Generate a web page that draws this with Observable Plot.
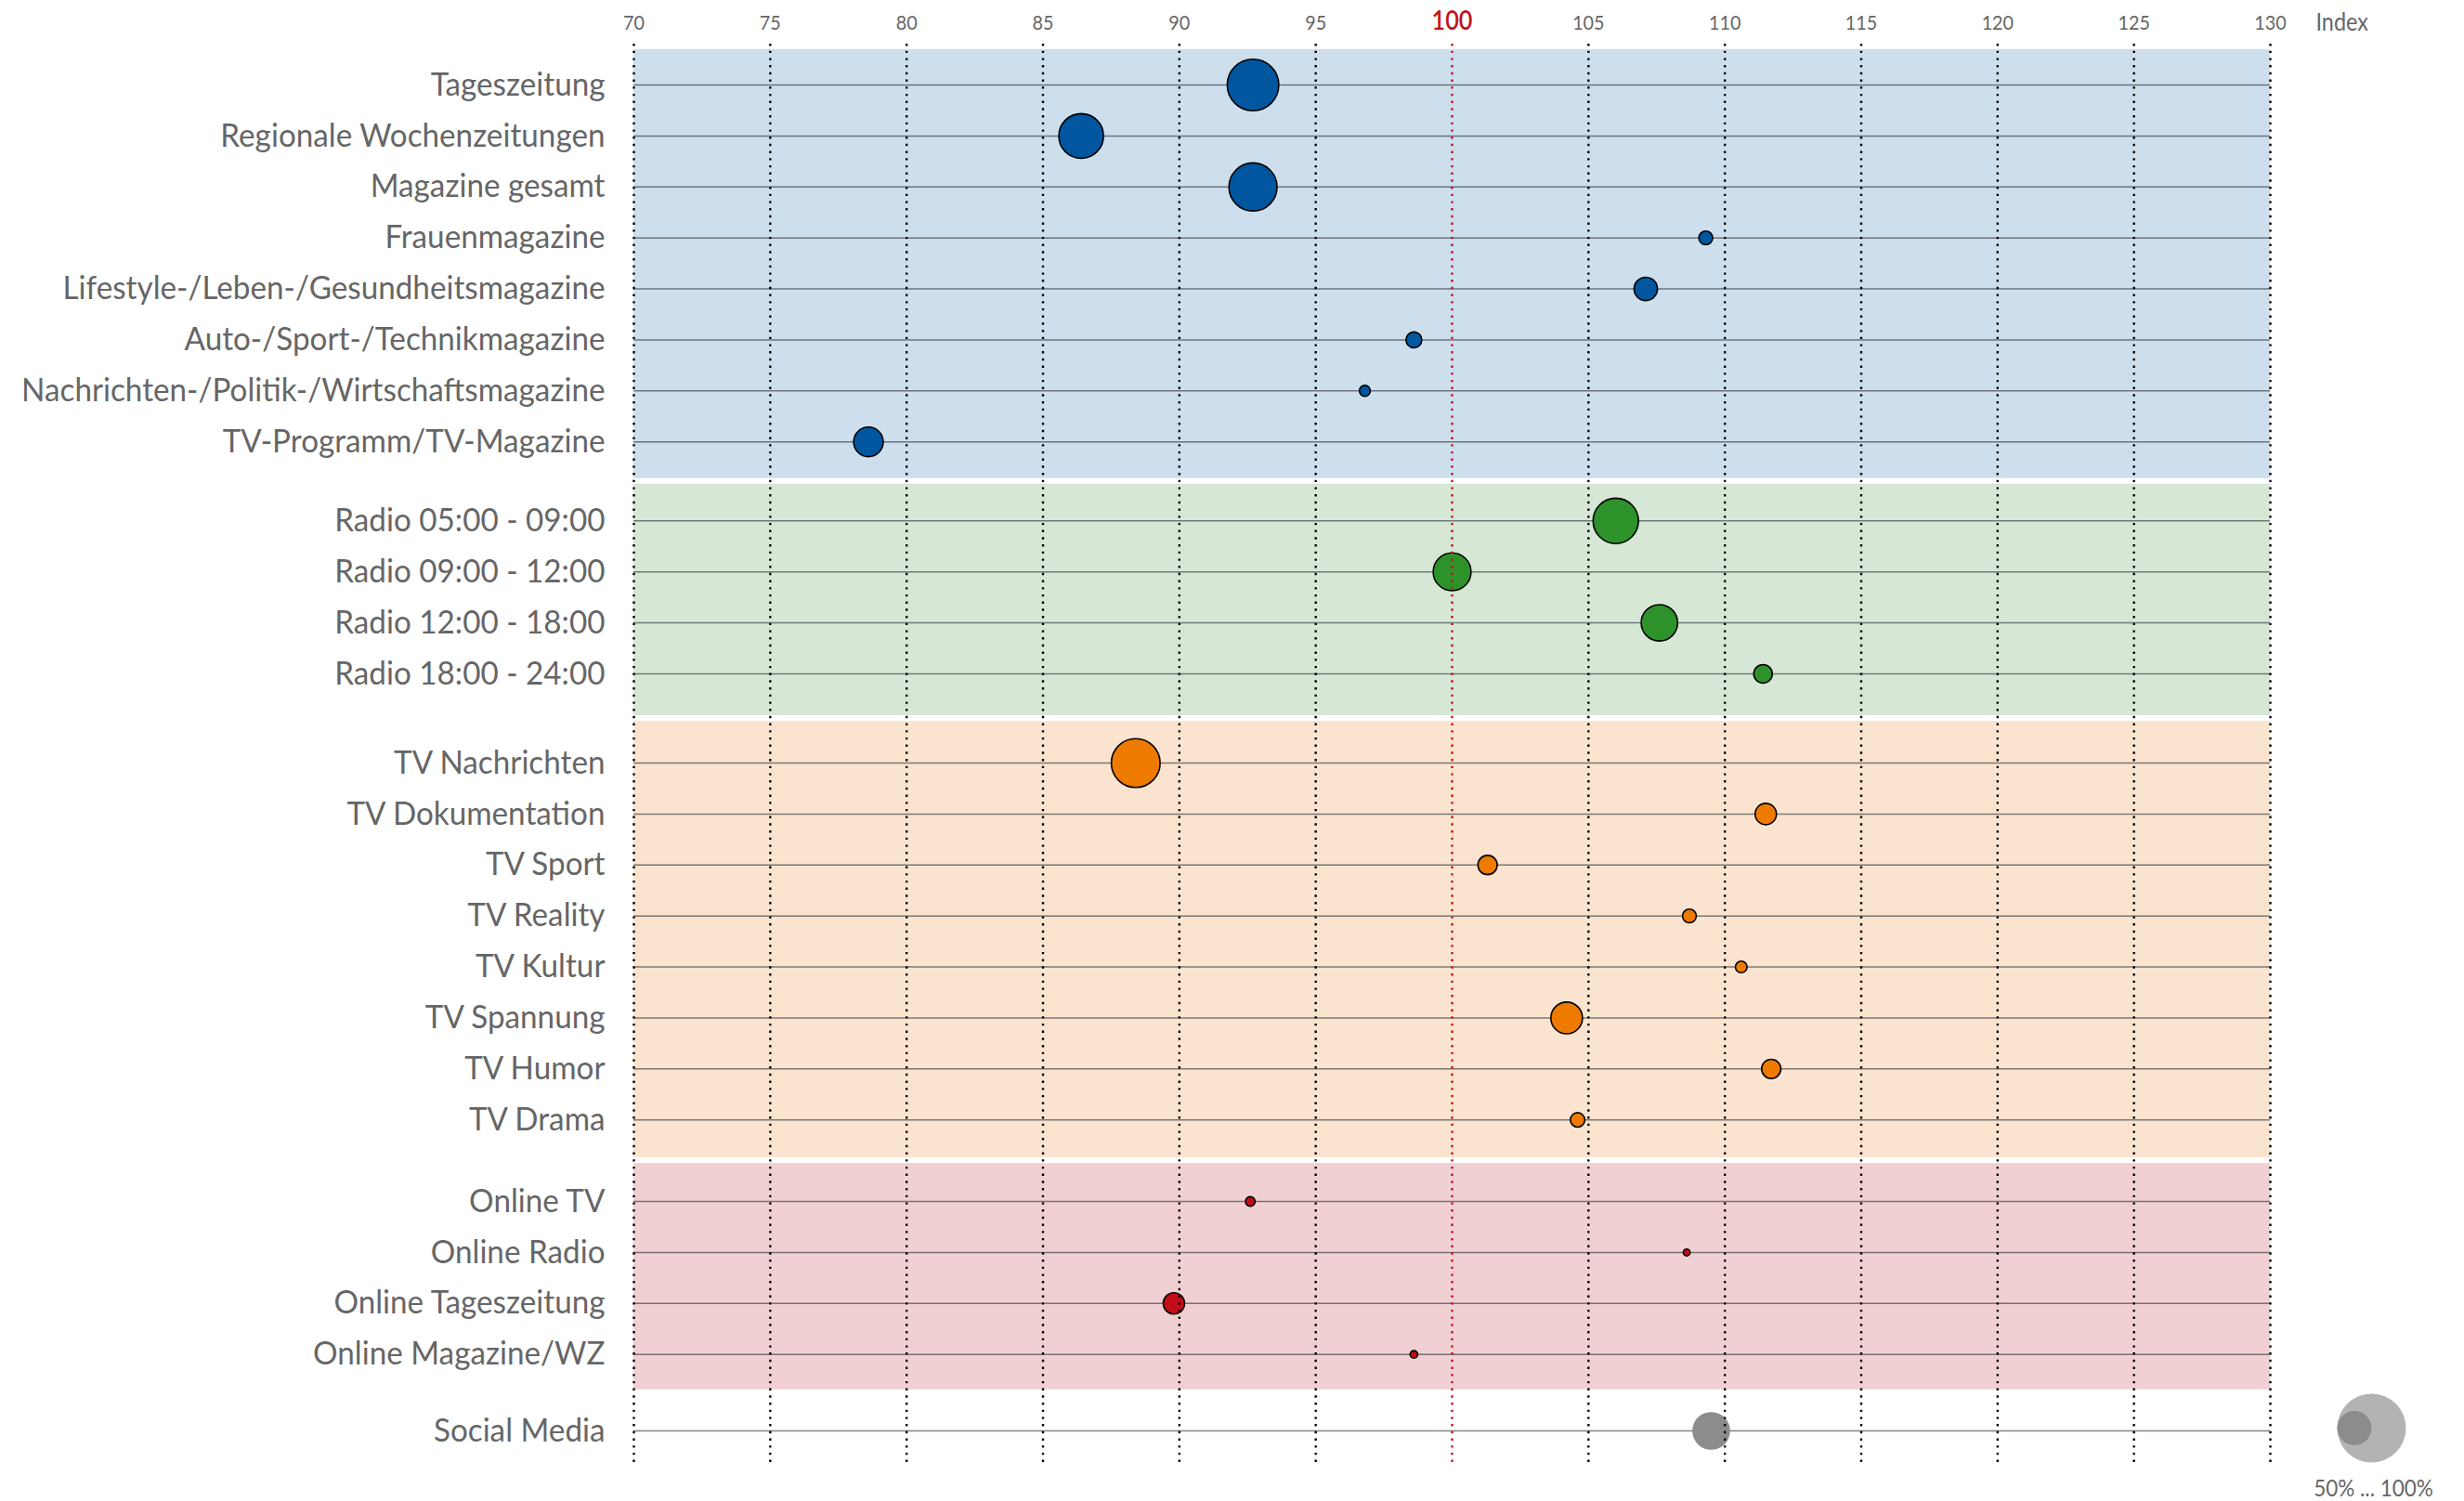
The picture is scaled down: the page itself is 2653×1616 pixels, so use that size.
<!DOCTYPE html>
<html>
<head>
<meta charset="utf-8">
<script src="https://cdn.jsdelivr.net/npm/d3@7"></script>
<script src="https://cdn.jsdelivr.net/npm/@observablehq/plot@0.6"></script>
<style>
  html, body { margin: 0; padding: 0; background: #fff; overflow: hidden; }
  #chart svg { display: block; }
</style>
</head>
<body>
<div id="chart"></div>
<script>
// ---------- data ----------
const categories = [
  "Tageszeitung", "Regionale Wochenzeitungen", "Magazine gesamt", "Frauenmagazine",
  "Lifestyle-/Leben-/Gesundheitsmagazine", "Auto-/Sport-/Technikmagazine",
  "Nachrichten-/Politik-/Wirtschaftsmagazine", "TV-Programm/TV-Magazine",
  "Radio 05:00 - 09:00", "Radio 09:00 - 12:00", "Radio 12:00 - 18:00", "Radio 18:00 - 24:00",
  "TV Nachrichten", "TV Dokumentation", "TV Sport", "TV Reality", "TV Kultur",
  "TV Spannung", "TV Humor", "TV Drama",
  "Online TV", "Online Radio", "Online Tageszeitung", "Online Magazine/WZ",
  "Social Media"
];
const groupOf = [
  "Print", "Print", "Print", "Print", "Print", "Print", "Print", "Print",
  "Radio", "Radio", "Radio", "Radio",
  "TV", "TV", "TV", "TV", "TV", "TV", "TV", "TV",
  "Online", "Online", "Online", "Online",
  "Social"
];
// Index (x position)
const indexValues = [
  92.7, 86.4, 92.7, 109.3, 107.1, 98.6, 96.8, 78.6,
  106.0, 100.0, 107.6, 111.4,
  88.4, 111.5, 101.3, 108.7, 110.6, 104.2, 111.7, 104.6,
  92.6, 108.6, 89.8, 98.6,
  109.5
];
// Reichweite in % (circle size)
const reachValues = [
  75, 65, 70, 20, 34, 23, 16, 43,
  66, 55, 53, 27,
  71, 31, 28, 20, 17, 46, 28, 21,
  14, 10, 31, 11,
  55
];
const xTicks = [70, 75, 80, 85, 90, 95, 100, 105, 110, 115, 120, 125, 130];
const groups = ["Print", "Radio", "TV", "Online", "Social"];
const dotColors = ["#00569f", "#2e922a", "#ee7a00", "#c10d17", "#8c8c8c"];
const bandColors = ["#cddfed", "#d6e8d5", "#fbe4cf", "#f1d0d3", null];
const legendValues = [100, 50];
const legendText = "50% ... 100%";
const axisLabel = "Index";

// ---------- layout helpers ----------
const groupGaps = [0.55, 0.75, 0.6, 0.5];   // extra space after each group (in rows)
const RED = "#c0141e";
const TEXT = "#666666";

const gapBefore = groups.map((g, gi) => d3.sum(groupGaps.slice(0, gi)));
const rows = categories.map((label, i) => {
  const g = groups.indexOf(groupOf[i]);
  return {
    label,
    group: groupOf[i],
    index: indexValues[i],
    reach: reachValues[i],
    pos: i + gapBefore[g],
    fill: dotColors[g],
    stroke: groupOf[i] === "Social" ? "none" : "#000"
  };
});
const lastPos = d3.max(rows, d => d.pos);

const bands = groups
  .map((g, gi) => {
    const rs = rows.filter(r => r.group === g);
    const padTop = gi > 0 ? (1 + groupGaps[gi - 1]) / 2 : 0.75;
    const padBottom = gi < groupGaps.length ? (1 + groupGaps[gi]) / 2 : 0.75;
    return {group: g, y1: d3.min(rs, r => r.pos) - padTop, y2: d3.max(rs, r => r.pos) + padBottom, fill: bandColors[gi]};
  })
  .filter(b => b.fill);

const rMax = 37; // px radius at 100%

const plot = Plot.plot({
  width: 2653,
  height: 1616,
  marginLeft: 682,
  marginRight: 209,
  marginTop: 47,
  marginBottom: 39,
  style: {fontFamily: "Lato, 'Open Sans', sans-serif", background: "#fff", overflow: "visible"},
  x: {domain: [70, 130], axis: null},
  y: {domain: [0, lastPos], range: [91, 1540], axis: null},
  r: {type: "linear", domain: [0, 100], range: [0, rMax]},
  color: {type: "identity"},
  marks: [
    // group background bands
    Plot.rect(bands, {
      x1: () => 70, x2: () => 130, y1: "y1", y2: "y2",
      fill: "fill", insetTop: 3, insetBottom: 3
    }),
    // row lines
    Plot.ruleY(rows, {
      y: "pos", x1: () => 70, x2: () => 130,
      stroke: "#2a2f36", strokeOpacity: 0.6, strokeWidth: 1.5
    }),
    // bubbles
    Plot.dot(rows, {
      x: "index", y: "pos", r: "reach",
      fill: "fill", stroke: "stroke", strokeWidth: 1.6
    }),
    // vertical dotted grid
    Plot.ruleX(xTicks, {
      x: d => d,
      stroke: d => d === 100 ? RED : "#000",
      strokeWidth: 2.4,
      strokeDasharray: "2.4,5.3"
    }),
    // x tick labels on top
    Plot.text(xTicks.filter(d => d !== 100), {
      x: d => d, text: d => String(d),
      frameAnchor: "top", lineAnchor: "middle", dy: -23,
      fill: TEXT, fontSize: 22
    }),
    Plot.text(xTicks.filter(d => d === 100), {
      x: d => d, text: d => String(d),
      frameAnchor: "top", lineAnchor: "middle", dy: -24,
      fill: RED, fontSize: 28, fontWeight: 600
    }),
    Plot.text([axisLabel], {
      text: d => d, frameAnchor: "top-right", textAnchor: "start", lineAnchor: "middle",
      dx: 49, dy: -23, fill: TEXT, fontSize: 26
    }),
    // category labels
    Plot.text(rows, {
      y: "pos", text: "label", frameAnchor: "left", textAnchor: "end", lineAnchor: "middle",
      dx: -31, fill: TEXT, fontSize: 35
    }),
    // size legend
    Plot.dot([legendValues[0]], {
      r: d => d, frameAnchor: "bottom-right", dx: 109, dy: -40, fill: "#b3b3b3"
    }),
    Plot.dot([legendValues[1]], {
      r: d => d, frameAnchor: "bottom-right", dx: 109 - rMax / 2, dy: -40, fill: "#8c8c8c"
    }),
    Plot.text([legendText], {
      text: d => d, frameAnchor: "bottom-right", lineAnchor: "middle", dx: 111, dy: 25,
      textAnchor: "middle", fill: TEXT, fontSize: 25
    })
  ]
});

// condense glyphs horizontally, each text about its own anchor point
function condense(match, s) {
  plot.querySelectorAll("text").forEach(t => {
    if (!match(t.textContent)) return;
    const tr = t.getAttribute("transform");
    if (tr) {
      t.setAttribute("transform", `${tr} scale(${s},1)`);
    } else {
      const x = parseFloat(t.getAttribute("x"));
      if (Number.isFinite(x)) {
        t.setAttribute("x", x / s);
        t.setAttribute("transform", `scale(${s},1)`);
      }
    }
  });
}
const tickStrings = new Set(xTicks.map(String).concat([axisLabel, legendText]));
condense(s => categories.includes(s), 0.95);
condense(s => tickStrings.has(s), 0.9);

document.getElementById("chart").appendChild(plot);
</script>
</body>
</html>
